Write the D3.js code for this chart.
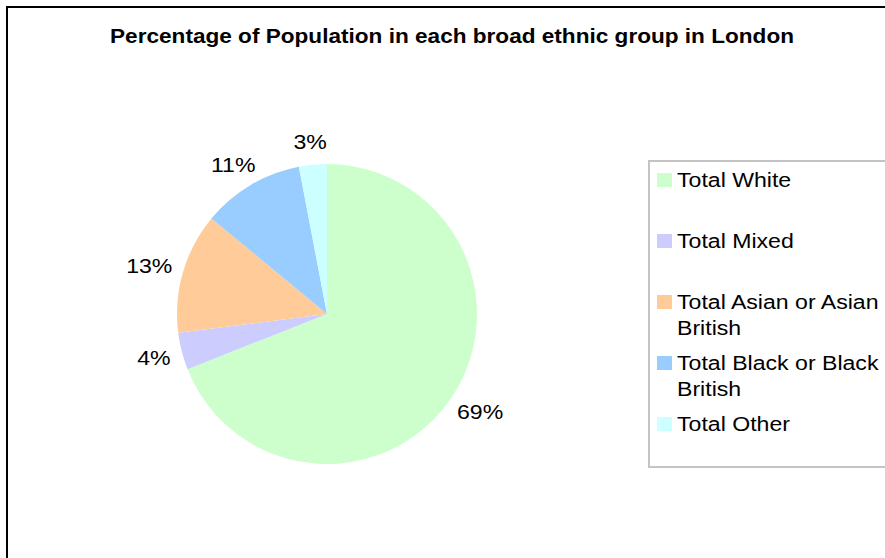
<!DOCTYPE html>
<html>
<head>
<meta charset="utf-8">
<script src="https://cdn.jsdelivr.net/npm/d3@7"></script>
<style>
  html, body { margin: 0; padding: 0; background: #fff; }
  svg { display: block; }
  text { font-family: "Liberation Sans", Arial, sans-serif; fill: #000; }
</style>
</head>
<body>
<svg id="chart" width="885" height="558"></svg>
<script>
// Share of London's population by broad ethnic group (percent)
const groups = ["Total White", "Total Mixed", "Total Asian or Asian British", "Total Black or Black British", "Total Other"];
const shares = [69, 4, 13, 11, 3];
const sliceColors = ["#CCFFCC", "#CCCCFF", "#FFCC99", "#99CCFF", "#CCFFFF"];
const chartTitle = "Percentage of Population in each broad ethnic group in London";

const svg = d3.select("#chart");
const stretch = 1.1; // text is drawn slightly wide

// chart frame (runs past the right and bottom edges)
svg.append("rect")
  .attr("x", 7).attr("y", 7)
  .attr("width", 900).attr("height", 600)
  .attr("fill", "#fff").attr("stroke", "#000").attr("stroke-width", 2);

svg.append("g")
  .attr("transform", `translate(452,43) scale(1.13,1)`)
  .append("text")
  .attr("text-anchor", "middle")
  .style("font-size", "20px").style("font-weight", "bold")
  .text(chartTitle);

// pie
const cx = 327, cy = 314, radius = 150;
const data = groups.map((g, i) => ({ name: g, value: shares[i], color: sliceColors[i] }));
const pie = d3.pie().value(d => d.value).sort(null);
const arcs = pie(data);
const arc = d3.arc().innerRadius(0).outerRadius(radius);
const gap = 12;

const g = svg.append("g").attr("transform", `translate(${cx},${cy})`);
g.selectAll("path.slice").data(arcs).enter().append("path")
  .attr("class", "slice")
  .attr("d", arc)
  .attr("fill", d => d.data.color);

// percentage labels sit just outside the rim, pushed outward by half their box
g.selectAll("text.pct").data(arcs).enter().append("text")
  .attr("class", "pct")
  .attr("text-anchor", "middle")
  .attr("dy", "0.35em")
  .style("font-size", "21px")
  .text(d => d3.format(".0f")(d.data.value) + "%")
  .each(function(d) {
    const bb = this.getBBox();
    const w = bb.width * stretch;
    const a = (d.startAngle + d.endAngle) / 2;
    const s = Math.sin(a), c = Math.cos(a);
    const x = (radius + gap) * s + s * w / 2;
    const y = -(radius + gap) * c - c * bb.height / 2;
    d3.select(this).attr("transform", `translate(${x},${y}) scale(${stretch},1)`);
  });

// legend
const legend = svg.append("g");
legend.append("rect")
  .attr("x", 649).attr("y", 161)
  .attr("width", 260).attr("height", 306)
  .attr("fill", "#fff").attr("stroke", "#c4c4c4").attr("stroke-width", 2);

const legendX = 657, textX = 677, firstBase = 187, step = 61, lineH = 26, maxW = 206 / stretch;
data.forEach((d, i) => {
  const base = firstBase + i * step;
  legend.append("rect")
    .attr("x", legendX).attr("y", base - 14)
    .attr("width", 15).attr("height", 14)
    .attr("fill", d.color);
  const t = legend.append("g")
    .attr("transform", `translate(${textX},${base}) scale(${stretch},1)`)
    .append("text")
    .style("font-size", "21px");
  // wrap words onto extra lines when too wide
  const words = d.name.split(" ");
  let line = [];
  let tspan = t.append("tspan").attr("x", 0).attr("y", 0);
  let lineNo = 0;
  words.forEach(w => {
    line.push(w);
    tspan.text(line.join(" "));
    if (tspan.node().getComputedTextLength() > maxW && line.length > 1) {
      line.pop();
      tspan.text(line.join(" "));
      line = [w];
      lineNo++;
      tspan = t.append("tspan").attr("x", 0).attr("y", lineNo * lineH).text(w);
    }
  });
});
</script>
</body>
</html>
